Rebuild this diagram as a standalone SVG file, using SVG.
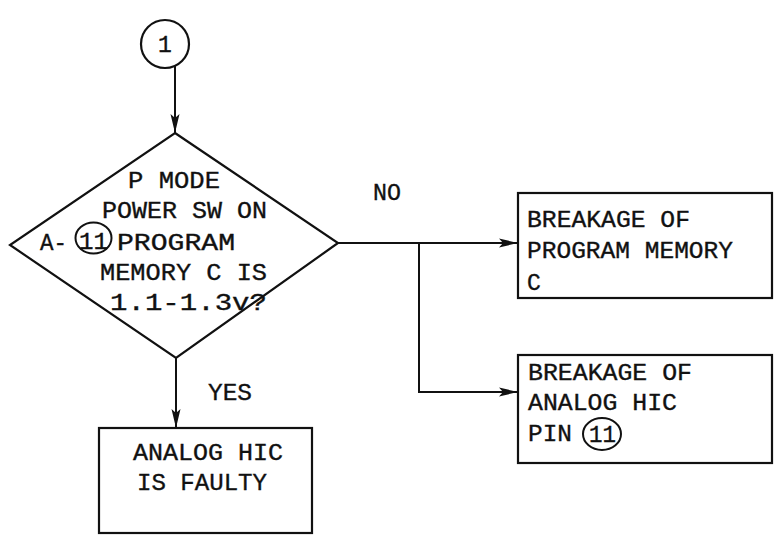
<svg xmlns="http://www.w3.org/2000/svg" width="779" height="541" viewBox="0 0 779 541">
<style>
.s{fill:none;stroke:#111;stroke-width:2}
.b{fill:#fff;stroke:#111;stroke-width:2.2}
text{font-family:"Liberation Mono","DejaVu Sans Mono",monospace;font-size:23px;fill:#111;stroke:#111;stroke-width:0.35}
</style>
<defs>
<marker id="ar" markerWidth="20" markerHeight="10" refX="19" refY="5" orient="auto" markerUnits="userSpaceOnUse">
<path d="M0,0.5 L19,5 L0,9.5 L4,5 Z" fill="#111"/>
</marker>
</defs>
<rect width="779" height="541" fill="#fff"/>
<g id="connectors">
<line class="s" x1="175" y1="66" x2="175" y2="133" marker-end="url(#ar)"/>
<polyline class="s" points="338,243 518,243" marker-end="url(#ar)"/>
<polyline class="s" points="419,243 419,392 518,392" marker-end="url(#ar)"/>
<line class="s" x1="176" y1="358" x2="176" y2="428" marker-end="url(#ar)"/>
<text x="373" y="200" textLength="28" lengthAdjust="spacingAndGlyphs">NO</text>
<text x="208" y="400" textLength="44" lengthAdjust="spacingAndGlyphs">YES</text>
</g>
<g id="start">
<circle class="b" cx="165" cy="44" r="24"/>
<text x="158" y="52">1</text>
</g>
<g id="decision">
<polygon class="b" points="175,133 338,243 176,358 10,245"/>
<text x="128" y="188" textLength="92" lengthAdjust="spacingAndGlyphs">P MODE</text>
<text x="102" y="218" textLength="165" lengthAdjust="spacingAndGlyphs">POWER SW ON</text>
<text x="40" y="250" textLength="27" lengthAdjust="spacingAndGlyphs">A-</text>
<ellipse class="s" cx="93.5" cy="238" rx="18" ry="15.5"/>
<text x="79" y="249" textLength="29" lengthAdjust="spacingAndGlyphs">11</text>
<text x="117" y="250" textLength="118" lengthAdjust="spacingAndGlyphs">PROGRAM</text>
<text x="100" y="280" textLength="167" lengthAdjust="spacingAndGlyphs">MEMORY C IS</text>
<text x="110" y="310" textLength="157" lengthAdjust="spacingAndGlyphs">1.1-1.3v?</text>
</g>
<g id="box-memory">
<rect class="b" x="518" y="193" width="254" height="105"/>
<text x="527" y="227" textLength="163" lengthAdjust="spacingAndGlyphs">BREAKAGE OF</text>
<text x="527" y="258" textLength="206" lengthAdjust="spacingAndGlyphs">PROGRAM MEMORY</text>
<text x="527" y="290">C</text>
</g>
<g id="box-pin">
<rect class="b" x="518" y="355" width="254" height="108"/>
<text x="528" y="380" textLength="164" lengthAdjust="spacingAndGlyphs">BREAKAGE OF</text>
<text x="528" y="410" textLength="149" lengthAdjust="spacingAndGlyphs">ANALOG HIC</text>
<text x="528" y="441" textLength="44" lengthAdjust="spacingAndGlyphs">PIN</text>
<ellipse class="s" cx="602" cy="434" rx="19" ry="16"/>
<text x="589" y="442" textLength="27" lengthAdjust="spacingAndGlyphs">11</text>
</g>
<g id="box-faulty">
<rect class="b" x="99" y="428" width="213" height="105"/>
<text x="133" y="460" textLength="150" lengthAdjust="spacingAndGlyphs">ANALOG HIC</text>
<text x="137" y="490" textLength="130" lengthAdjust="spacingAndGlyphs">IS FAULTY</text>
</g>
</svg>
